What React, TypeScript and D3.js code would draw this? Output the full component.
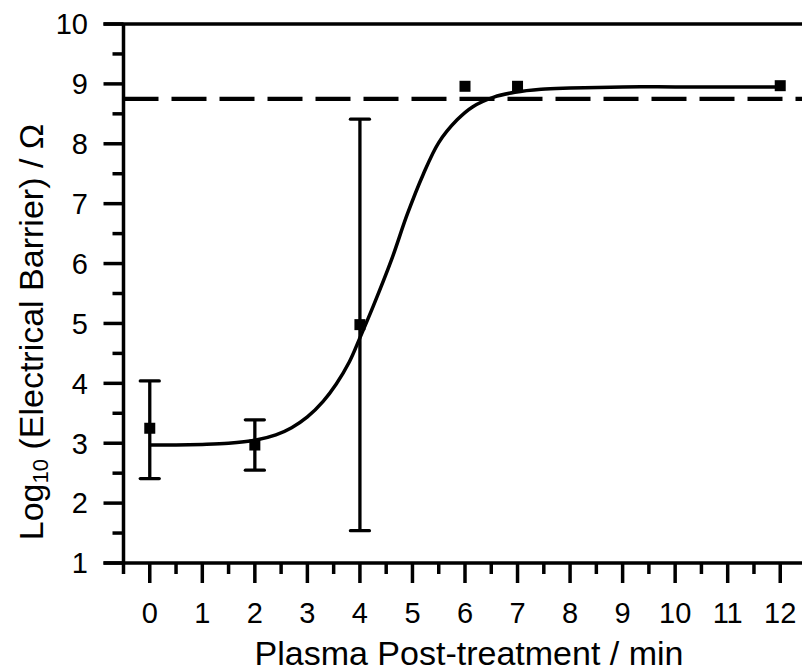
import React from "react";
import * as d3 from "d3";

// Measured data
const times = [0, 2, 4, 6, 7, 12];
const barrier = [3.25, 2.97, 4.98, 8.96, 8.96, 8.97];
const errLow: (number | null)[] = [2.41, 2.55, 1.54, null, null, null];
const errHigh: (number | null)[] = [4.04, 3.39, 8.41, null, null, null];

// Fitted sigmoid curve
const fitX = [0, 0.5, 1, 1.5, 2, 2.4, 2.7, 3, 3.3, 3.55, 3.8, 4, 4.25, 4.6, 4.9, 5.2, 5.5, 5.85, 6.15, 6.55, 6.95, 7.45, 8, 9, 10, 11, 12];
const fitY = [2.97, 2.97, 2.98, 3.0, 3.05, 3.14, 3.26, 3.44, 3.7, 3.99, 4.36, 4.76, 5.28, 6.06, 6.82, 7.48, 8.02, 8.4, 8.62, 8.78, 8.86, 8.91, 8.93, 8.95, 8.95, 8.95, 8.95];

const threshold = 8.75;

const xMajor = [0, 1, 2, 3, 4, 5, 6, 7, 8, 9, 10, 11, 12];
const xMinor = [-0.5, 0.5, 1.5, 2.5, 3.5, 4.5, 5.5, 6.5, 7.5, 8.5, 9.5, 10.5, 11.5, 12.5];
const yMajor = [1, 2, 3, 4, 5, 6, 7, 8, 9, 10];
const yMinor = [1.5, 2.5, 3.5, 4.5, 5.5, 6.5, 7.5, 8.5, 9.5];

const xTitle = "Plasma Post-treatment / min";

export default function App() {
  const W = 802, H = 672;
  const x = d3.scaleLinear().domain([-0.5, 12.5]).range([123.5, 806.5]);
  const y = d3.scaleLinear().domain([1, 10]).range([563, 24]);
  const font = "'Liberation Sans', Arial, sans-serif";
  const line = d3
    .line<number>()
    .x((_, i) => x(fitX[i]))
    .y((d) => y(d))
    .curve(d3.curveCatmullRom.alpha(0.5));
  const x0 = x(-0.5);
  const y0 = y(1);
  const yTop = y(10);
  const sw = 3.5;

  return (
    <svg width={W} height={H} style={{ position: "absolute", left: 0, top: 0, background: "#fff" }} fontFamily={font}>
      <rect x={0} y={0} width={W} height={H} fill="#fff" />
      {/* dashed threshold */}
      <line x1={x0} x2={W + 10} y1={y(threshold)} y2={y(threshold)} stroke="#000" strokeWidth={4.2} strokeDasharray="35,13" />
      {/* error bars */}
      {times.map((t, i) =>
        errLow[i] != null && errHigh[i] != null ? (
          <g key={"e" + i} stroke="#000" strokeWidth={3.3}>
            <line x1={x(t)} x2={x(t)} y1={y(errLow[i] as number)} y2={y(errHigh[i] as number)} />
            <line x1={x(t) - 9.5} x2={x(t) + 9.5} y1={y(errLow[i] as number)} y2={y(errLow[i] as number)} strokeLinecap="round" />
            <line x1={x(t) - 9.5} x2={x(t) + 9.5} y1={y(errHigh[i] as number)} y2={y(errHigh[i] as number)} strokeLinecap="round" />
          </g>
        ) : null
      )}
      {/* fit curve */}
      <path d={line(fitY) || ""} fill="none" stroke="#000" strokeWidth={3.5} />
      {/* points */}
      {times.map((t, i) => (
        <rect key={"p" + i} x={x(t) - 5.5} y={y(barrier[i]) - 5.5} width={11} height={11} fill="#000" />
      ))}
      {/* axes */}
      <g stroke="#000" strokeWidth={sw}>
        <line x1={x0} x2={x0} y1={yTop} y2={y0} />
        <line x1={x0 - 20} x2={W + 10} y1={y0} y2={y0} />
        <line x1={x0 - 20} x2={W + 10} y1={yTop} y2={yTop} />
        {xMajor.map((v) => (
          <line key={"xM" + v} x1={x(v)} x2={x(v)} y1={y0} y2={y0 + 20} />
        ))}
        {xMinor.map((v) => (
          <line key={"xm" + v} x1={x(v)} x2={x(v)} y1={y0} y2={y0 + 11} />
        ))}
        {yMajor.map((v) => (
          <line key={"yM" + v} x1={x0 - 20} x2={x0} y1={y(v)} y2={y(v)} />
        ))}
        {yMinor.map((v) => (
          <line key={"ym" + v} x1={x0 - 11} x2={x0} y1={y(v)} y2={y(v)} />
        ))}
      </g>
      {/* tick labels */}
      <g fontSize={29} fill="#000">
        {xMajor.map((v) => (
          <text key={"xl" + v} x={x(v)} y={622.5} textAnchor="middle">
            {String(v)}
          </text>
        ))}
        {yMajor.map((v) => (
          <text key={"yl" + v} x={88} y={y(v) + 10.3} textAnchor="end">
            {String(v)}
          </text>
        ))}
      </g>
      {/* axis titles */}
      <text x={469} y={665} fontSize={34} textAnchor="middle" fill="#000">
        {xTitle}
      </text>
      <text transform="translate(43,332) rotate(-90)" fontSize={34} textAnchor="middle" fill="#000">
        <tspan>Log</tspan>
        <tspan fontSize={22} dy={5}>10</tspan>
        <tspan dy={-5}> (Electrical Barrier) / Ω</tspan>
      </text>
    </svg>
  );
}
